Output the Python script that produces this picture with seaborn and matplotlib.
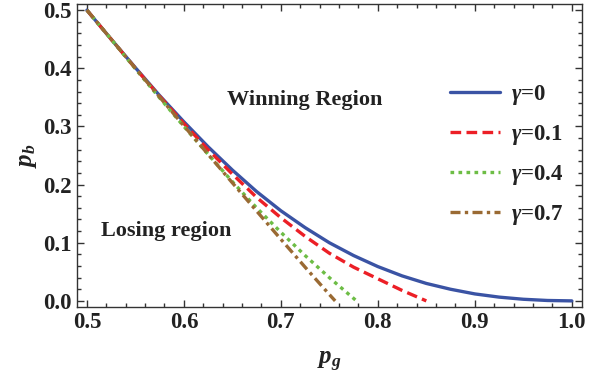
import numpy as np
import matplotlib
matplotlib.use("Agg")
import matplotlib.pyplot as plt
import seaborn as sns
from matplotlib.ticker import MultipleLocator

# values
pg_0 = [0.500, 0.525, 0.550, 0.575, 0.600, 0.625, 0.650, 0.675, 0.700, 0.725, 0.750,
        0.775, 0.800, 0.825, 0.850, 0.875, 0.900, 0.925, 0.950, 0.975, 1.000]
pb_0 = [0.500, 0.450, 0.401, 0.353, 0.308, 0.265, 0.225, 0.188, 0.155, 0.126, 0.100,
        0.078, 0.059, 0.043, 0.030, 0.020, 0.012, 0.0065, 0.0028, 0.0007, 0.000]

pg_1 = [0.500, 0.525, 0.550, 0.575, 0.600, 0.625, 0.650, 0.675, 0.700, 0.725, 0.750,
        0.775, 0.800, 0.825, 0.850]
pb_1 = [0.500, 0.450, 0.400, 0.352, 0.305, 0.260, 0.218, 0.178, 0.143, 0.111, 0.082,
        0.058, 0.038, 0.018, 0.000]

pg_4 = [0.500, 0.525, 0.550, 0.575, 0.600, 0.625, 0.650, 0.675, 0.700, 0.725, 0.750, 0.778]
pb_4 = [0.500, 0.450, 0.399, 0.349, 0.300, 0.252, 0.205, 0.160, 0.118, 0.078, 0.040, 0.000]

pg_7 = [0.500, 0.550, 0.600, 0.650, 0.700, 0.725, 0.750, 0.756]
pb_7 = [0.500, 0.400, 0.301, 0.203, 0.106, 0.058, 0.011, 0.000]

labels = ["0", "0.1", "0.4", "0.7"]
colors = ["#3a53a4", "#ec1f26", "#6dbd45", "#9a6a33"]

sns.set_style("ticks")
plt.rcParams["font.family"] = ["Liberation Serif", "DejaVu Serif"]
plt.rcParams["font.weight"] = "bold"
plt.rcParams["mathtext.fontset"] = "custom"
plt.rcParams["mathtext.it"] = "Liberation Serif:italic:bold"
plt.rcParams["mathtext.rm"] = "Liberation Serif:bold"
plt.rcParams["mathtext.bf"] = "Liberation Serif:bold"

fig = plt.figure(figsize=(6.01, 3.77), dpi=100)
ax = fig.add_axes([0.128, 0.186, 0.840, 0.803])

styles = [None, (0, (3.2, 1.6)), (0, (1.1, 1.3)), (0, (3.0, 1.3, 1.0, 1.3))]
series = [(pg_0, pb_0), (pg_1, pb_1), (pg_4, pb_4), (pg_7, pb_7)]
for (x, y), lab, c, dash in zip(series, labels, colors, styles):
    sns.lineplot(x=x, y=y, ax=ax, color=c, lw=2.4, label=rf"$\gamma$=" + lab, sort=False)
    if dash is not None:
        ax.lines[-1].set_linestyle(dash)

ax.set_xlim(0.4897, 1.0103)
ax.set_ylim(-0.0103, 0.5103)
ax.xaxis.set_major_locator(MultipleLocator(0.1))
ax.xaxis.set_minor_locator(MultipleLocator(0.02))
ax.yaxis.set_major_locator(MultipleLocator(0.1))
ax.yaxis.set_minor_locator(MultipleLocator(0.02))
ax.xaxis.set_major_formatter(plt.FuncFormatter(lambda v, p: f"{v:.1f}"))
ax.yaxis.set_major_formatter(plt.FuncFormatter(lambda v, p: f"{v:.1f}"))
ax.tick_params(which="both", direction="in", top=True, right=True, colors="#333333",
               labelcolor="#222222", labelsize=16.5, width=1.0)
ax.tick_params(which="major", length=5, pad=4)
ax.tick_params(which="minor", length=3)
for s in ax.spines.values():
    s.set_color("#333333")
    s.set_linewidth(1.0)

ax.set_xlabel(r"$p_g$", fontsize=18, color="#222222", labelpad=12)
ax.set_ylabel(r"$p_b$", fontsize=18, color="#222222", labelpad=3)

ax.text(0.7247, 0.345, "Winning Region", fontsize=16, fontweight="bold",
        ha="center", va="center", color="#222222")
ax.text(0.5815, 0.120, "Losing region", fontsize=16, fontweight="bold",
        ha="center", va="center", color="#222222")

leg = ax.legend(loc="upper left", bbox_to_anchor=(0.72, 0.77), frameon=False,
                fontsize=16.5, handlelength=2.2, handletextpad=0.5, labelspacing=0.7,
                borderaxespad=0)
for t in leg.get_texts():
    t.set_color("#222222")

fig.savefig("out.png", dpi=100)
